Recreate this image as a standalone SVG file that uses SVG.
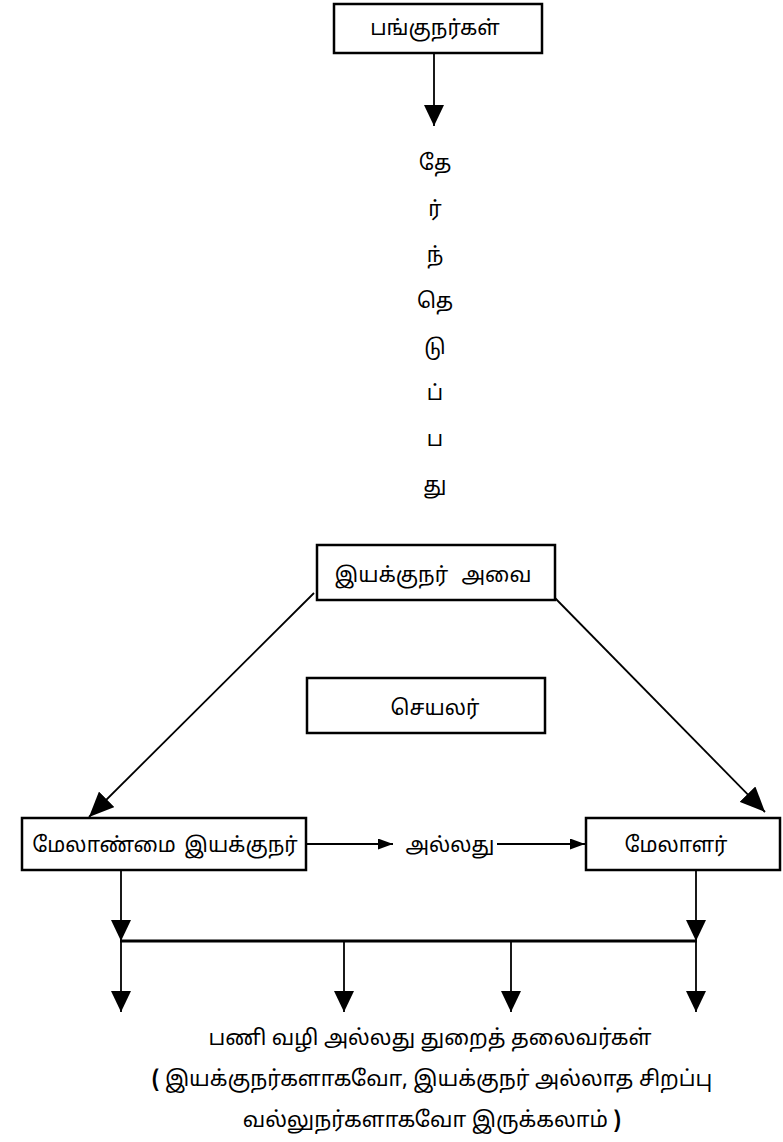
<svg xmlns="http://www.w3.org/2000/svg" width="783" height="1142" viewBox="0 0 783 1142">
<style>
text{font-family:"Noto Sans Tamil","Lohit Tamil",Latha,"Noto Sans",sans-serif;font-size:21px;fill:#000}
.box{fill:#fff;stroke:#000;stroke-width:2.5}
.c{fill:none;stroke:#000;stroke-width:1.8}
.t{text-anchor:middle}
.b{font-size:21.5px}
</style>
<defs>
<marker id="big" markerUnits="userSpaceOnUse" markerWidth="21" markerHeight="20" refX="21" refY="10" orient="auto"><path d="M0,0 L21,10 L0,20 z" fill="#000"/></marker>
<marker id="diag" markerUnits="userSpaceOnUse" markerWidth="25" markerHeight="22" refX="25" refY="11" orient="auto"><path d="M0,0 L25,11 L0,22 z" fill="#000"/></marker>
<marker id="sm" markerUnits="userSpaceOnUse" markerWidth="15" markerHeight="11" refX="15" refY="5.5" orient="auto"><path d="M0,0 L15,5.5 L0,11 z" fill="#000"/></marker>
</defs>
<g id="connectors">
<line class="c" x1="434" y1="53" x2="434" y2="126" marker-end="url(#big)"/>
<line class="c" x1="314" y1="593" x2="89" y2="817" marker-end="url(#diag)"/>
<line class="c" x1="555" y1="598" x2="765" y2="812" marker-end="url(#diag)"/>
<line class="c" x1="306" y1="844" x2="393" y2="844" marker-end="url(#sm)"/>
<line class="c" x1="497" y1="844" x2="585" y2="844" marker-end="url(#sm)"/>
<line class="c" x1="121" y1="870" x2="121" y2="941" marker-end="url(#big)"/>
<line class="c" x1="696" y1="870" x2="696" y2="941" marker-end="url(#big)"/>
<line x1="120" y1="941" x2="697" y2="941" stroke="#000" stroke-width="3"/>
<line class="c" x1="121" y1="941" x2="121" y2="1012" marker-end="url(#big)"/>
<line class="c" x1="344" y1="941" x2="344" y2="1012" marker-end="url(#big)"/>
<line class="c" x1="511" y1="941" x2="511" y2="1012" marker-end="url(#big)"/>
<line class="c" x1="696" y1="941" x2="696" y2="1012" marker-end="url(#big)"/>
</g>
<g id="shareholders">
<rect class="box" x="334" y="4" width="208" height="49"/>
<text class="t" x="435" y="35">பங்குநர்கள்</text>
</g>
<g id="elect-label">
<text class="t" x="435" y="170">தே</text>
<text class="t" x="435" y="216">ர்</text>
<text class="t" x="435" y="262">ந்</text>
<text class="t" x="435" y="308">தெ</text>
<text class="t" x="435" y="354">டு</text>
<text class="t" x="435" y="400">ப்</text>
<text class="t" x="435" y="446">ப</text>
<text class="t" x="435" y="492">து</text>
</g>
<g id="board">
<rect class="box" x="317" y="545" width="238" height="55"/>
<text class="t" x="433" y="582" word-spacing="8">இயக்குநர் அவை</text>
</g>
<g id="secretary">
<rect class="box" x="307" y="678" width="238" height="55"/>
<text class="t" x="435" y="715">செயலர்</text>
</g>
<g id="md">
<rect class="box" x="22" y="818" width="284" height="52"/>
<text class="t" x="165" y="852" word-spacing="3">மேலாண்மை இயக்குநர்</text>
</g>
<g id="or-label">
<text class="t" x="450" y="852">அல்லது</text>
</g>
<g id="manager">
<rect class="box" x="586" y="818" width="194" height="52"/>
<text class="t" x="676" y="852">மேலாளர்</text>
</g>
<g id="heads">
<text class="t b" x="430" y="1045">பணி வழி அல்லது துறைத் தலைவர்கள்</text>
<text class="t b" x="432" y="1086"><tspan font-weight="bold">(</tspan> இயக்குநர்களாகவோ, இயக்குநர் அல்லாத சிறப்பு</text>
<text class="t b" x="432" y="1127">வல்லுநர்களாகவோ இருக்கலாம் <tspan font-weight="bold">)</tspan></text>
</g>
</svg>
